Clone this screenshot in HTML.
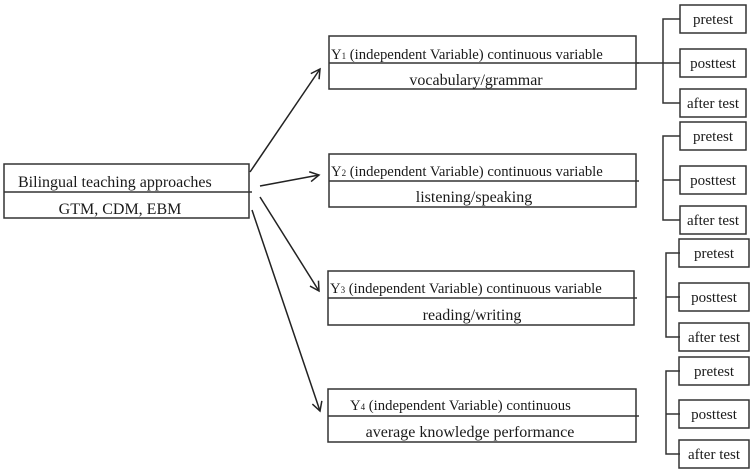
<!DOCTYPE html>
<html><head><style>body{margin:0;background:#fff}svg{display:block}text{font-family:"Liberation Serif",serif;fill:#1a1a1a}</style></head><body>
<svg width="754" height="473" viewBox="0 0 754 473" xmlns="http://www.w3.org/2000/svg">
<defs><marker id="a" markerWidth="12" markerHeight="12" refX="10" refY="6" orient="auto" markerUnits="userSpaceOnUse"><path d="M1,1 L10,6 L1,11" fill="none" stroke="#222" stroke-width="1.5"/></marker></defs>
<g fill="none" stroke="#333" stroke-width="1.5">
<rect x="4" y="164" width="245" height="54"/><line x1="4" y1="192" x2="252" y2="192"/>
<rect x="329" y="36" width="307" height="53"/><line x1="329" y1="63" x2="639" y2="63"/>
<rect x="329" y="154" width="307" height="53"/><line x1="329" y1="181" x2="639" y2="181"/>
<rect x="328" y="271" width="306" height="54"/><line x1="328" y1="298" x2="637" y2="298"/>
<rect x="328" y="389" width="308" height="53"/><line x1="328" y1="416" x2="639" y2="416"/>
<line x1="636" y1="63" x2="663" y2="63"/>
<path d="M680,19 H663 V103 H680 M663,63 H680"/>
<path d="M680,136 H663 V220 H680 M663,180 H680"/>
<path d="M680,253 H666 V337 H680 M666,297 H680"/>
<path d="M680,371 H666 V454 H680 M666,414 H680"/>
<rect x="680" y="5" width="66" height="28"/><rect x="680" y="49" width="66" height="28"/><rect x="680" y="89" width="66" height="28"/>
<rect x="680" y="122" width="66" height="28"/><rect x="680" y="166" width="66" height="28"/><rect x="680" y="206" width="66" height="28"/>
<rect x="679" y="239" width="70" height="28"/><rect x="679" y="283" width="70" height="28"/><rect x="679" y="323" width="70" height="28"/>
<rect x="679" y="357" width="70" height="28"/><rect x="679" y="400" width="70" height="28"/><rect x="679" y="440" width="70" height="28"/>
</g>
<g stroke="#222" stroke-width="1.5" fill="none">
<line x1="250" y1="172" x2="320" y2="69" marker-end="url(#a)"/>
<line x1="260" y1="186" x2="319" y2="175" marker-end="url(#a)"/>
<line x1="260" y1="197" x2="319" y2="291" marker-end="url(#a)"/>
<line x1="252" y1="210" x2="320" y2="411" marker-end="url(#a)"/>
</g>
<g font-size="16">
<text x="18" y="187">Bilingual teaching approaches</text>
<text x="120" y="214" text-anchor="middle">GTM, CDM, EBM</text>
</g>
<g font-size="14.7">
<text x="331" y="59">Y<tspan font-size="9">1</tspan> (independent Variable) continuous variable</text>
<text x="476" y="85" text-anchor="middle" font-size="16">vocabulary/grammar</text>
<text x="331" y="176">Y<tspan font-size="9">2</tspan> (independent Variable) continuous variable</text>
<text x="474" y="202" text-anchor="middle" font-size="16">listening/speaking</text>
<text x="330" y="293">Y<tspan font-size="9">3</tspan> (independent Variable) continuous variable</text>
<text x="472" y="320" text-anchor="middle" font-size="16">reading/writing</text>
<text x="350" y="410">Y<tspan font-size="9">4</tspan> (independent Variable) continuous</text>
<text x="470" y="437" text-anchor="middle" font-size="16">average knowledge performance</text>
</g>
<g font-size="15" text-anchor="middle">
<text x="713" y="24">pretest</text><text x="713" y="68">posttest</text><text x="713" y="108">after test</text>
<text x="713" y="141">pretest</text><text x="713" y="185">posttest</text><text x="713" y="225">after test</text>
<text x="714" y="258">pretest</text><text x="714" y="302">posttest</text><text x="714" y="342">after test</text>
<text x="714" y="376">pretest</text><text x="714" y="419">posttest</text><text x="714" y="459">after test</text>
</g>
</svg>
</body></html>
